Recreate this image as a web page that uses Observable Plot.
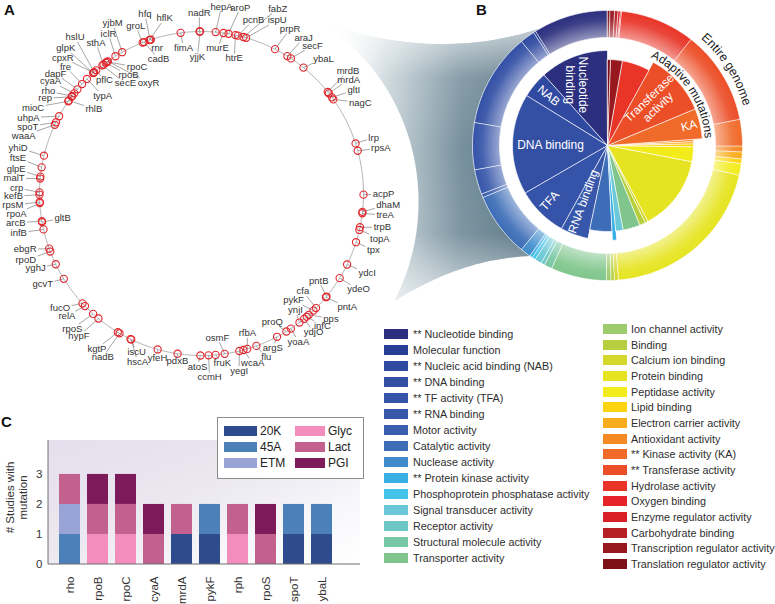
<!DOCTYPE html>
<html>
<head>
<meta charset="utf-8">
<script src="https://cdn.jsdelivr.net/npm/d3@7"></script>
<script src="https://cdn.jsdelivr.net/npm/@observablehq/plot@0.6"></script>
<style>
html,body{margin:0;padding:0;background:#fff;}
#fig{position:relative;width:775px;height:604px;overflow:hidden;font-family:"Liberation Sans",Arial,Helvetica,sans-serif;color:#2a2a2a;}
#fig > svg{position:absolute;background:transparent;}
.ab{position:absolute;white-space:nowrap;}
</style>
</head>
<body>
<div id="fig"></div>
<script>
const FONT = "'Liberation Sans', Arial, Helvetica, sans-serif";

// ---------------- Panel A : genes on the genome (position in degrees, clockwise from origin) ----------------
const genes = [
["nadR",-0.7],["yjjK",-0.5],["fimA",-7.4],["hepA",5.0],["murE",7.8],["aroP",9.6],["htrE",12.1],["pcnB",13.0],
["fabZ",15.0],["ispU",16.0],["hfq",-18.5],["hflK",-18.8],["groL",-21.3],["rnr",-18.2],["cadB",-20.8],["yjbM",-29.3],
["iclR",-32.1],["sthA",-37.2],["hslU",-41.5],["glpK",-42.0],["cpxR",-41.8],["pflC",-40.5],["secE",-37.7],["oxyR",-35.3],
["rpoB",-36.2],["rpoC",-35.7],["typA",-45.0],["fre",-47.5],["dapF",-50.0],["cyaA",-51.8],["rho",-53.0],["rep",-53.3],
["mioC",-55.3],["rhlB",-55.0],["uhpA",-61.5],["spoT",-63.9],["waaA",-64.9],["yhiD",-76.5],["ftsE",-80.7],["glpE",-84.0],
["malT",-84.7],["crp",-89.6],["kefB",-90.4],["rpsM",-93.0],["rpoA",-93.4],["arcB",-99.8],["gltB",-100.2],["infB",-102.8],
["ebgR",-109.9],["rpoD",-111.0],["yghJ",-115.9],["gcvT",-121.8],["fucO",-132.7],["relA",-134.0],["rpoS",-138.0],["hypF",-140.5],
["kgtP",-148.9],["nadB",-149.6],["iscU",-154.0],["hscA",-154.3],["yfeH",-164.3],["pdxB",-171.5],["atoS",-179.6],["ccmH",177.5],
["fruK",175.0],["osmF",171.8],["yegI",166.5],["wcaA",165.0],["rfbA",163.6],["flu",160.2],["argS",152.2],["proQ",148.4],
["yoaA",146.5],["ynjI",142.8],["ydjO",140.7],["infC",139.5],["pps",138.5],["pykF",136.3],["cfa",135.0],["pntA",129.8],
["pntB",129.5],["ydeO",121.5],["ydcI",116.0],["tpx",107.5],["topA",103.0],["trpB",102.0],["treA",97.0],["dhaM",96.5],
["acpP",90.4],["rpsA",74.7],["lrp",72.0],["nagC",54.5],["gltI",53.6],["mrdA",51.8],["mrdB",51.2],["ybaL",39.0],
["secF",33.5],["araJ",32.0],["prpR",27.0]
];
// label placement [angle, radius px] (same order as genes)
const labelPlacement = [
[-0.7,181],[-1.7,137],[-7,147],[6.1,188],[6.3,146],[11.8,190],[13.6,139],[16.7,181],
[22.4,200],[23.6,189],[-17.5,188],[-11.9,179],[-21.4,180],[-16.9,152.5],[-17.7,141],[-27.6,192],
[-30.2,185],[-35,184],[-39,201],[-43,199],[-45.6,194],[-40.6,149],[-34.6,134],[-25.5,123],
[-31.7,139],[-27,142],[-45.3,139],[-47,186],[-50.6,189],[-53.4,188],[-56.3,184],[-58.7,183],
[-63,189],[-51.8,137],[-66.3,189],[-69,186],[-72,187],[-76,189],[-79,187],[-82.4,187],
[-85.4,188],[-88.2,185],[-90.9,188],[-93.6,189],[-96.2,186],[-99,188],[-100,141],[-102.2,187],
[-107.6,185],[-110.8,188],[-114.3,182],[-119.8,183],[-129,182],[-132.3,182],[-136.3,187],[-139.3,188],
[-146,187],[-148.9,191],[-157.7,171],[-159.2,180],[-165,170],[-171.8,169],[-178.7,173],[177.5,184],
[173,171],[173.7,145],[168,181],[163.2,177],[161.8,147],[158.4,176],[155.2,170],[151.2,147],
[146.8,177],[141.2,150],[141,178],[137.5,179],[134,180],[139.3,141],[134,141],[128,185],
[126.6,146],[121.4,184],[115.7,184],[108.3,181],[104.2,184],[100.6,184],[96.8,185],[93.4,187],
[90.3,182],[75.8,185],[72,181],[60.2,183],[55.9,184],[52.3,186],[50.1,191],[42.1,182],
[36.9,185],[33.3,186],[28.3,187]
];

// ---------------- Panel B : molecular function categories ----------------
const functionNames = ["** Nucleotide binding","Molecular function","** Nucleic acid binding (NAB)","** DNA binding","** TF activity (TFA)","** RNA binding","Motor activity","Catalytic activity","Nuclease activity","** Protein kinase activity","Phosphoprotein phosphatase activity","Signal transducer activity","Receptor activity","Structural molecule activity","Transporter activity","Ion channel activity","Binding","Calcium ion binding","Protein binding","Peptidase activity","Lipid binding","Electron carrier activity","Antioxidant activity","** Kinase activity (KA)","** Transferase activity","Hydrolase activity","Oxygen binding","Enzyme regulator activity","Carbohydrate binding","Transcription regulator activity","Translation regulator activity"];
const functionColors = ["#2b2f7e","#283d96","#2f4aa0","#3350a5","#3553a8","#3757aa","#3a5dae","#3d6db7","#3f8bcb","#38b0e6","#45c4ea","#6ac8d8","#6cc6c4","#78c7a5","#80c68c","#9ecb6e","#b5cf3e","#d4d82b","#e6e420","#f2ec1b","#fcd30f","#f9ac1c","#f58a25","#f06a2a","#ec4e28","#e83528","#e52329","#d81f27","#b71f27","#98181f","#7c1117"];
// share of adaptive mutations (inner pie)
const adaptiveShare = [42,0,16.3,61.7,31,17,0,15,0,2.5,0,5,0,0,11.6,0,4,2,51,10,2,1.5,1.5,18.5,38.5,18.9,0,0,0,8,2];
// share of entire genome (outer ring)
const genomeShare = [32.3,1,6.4,40.7,20.3,10.7,1.6,27.8,4.5,1.2,1.5,3,1.6,3.4,24,2,1.5,1.7,72.8,5,2,3,2.5,11.5,40.7,32.3,0.5,1,1.5,2,1];
const pieLabels = [
  ["Nucleotide\nbinding", 333, 68, 90],
  ["NAB", 310.3, 77, 40],
  ["DNA binding", 271, 57, 0],
  ["TFA", 226.4, 80, -48],
  ["RNA binding", 203.5, 61, -70],
  ["Transferase\nactivity", 46.9, 63, -44],
  ["KA", 76.3, 84, -14]
];

// ---------------- Panel C : recurrently mutated genes ----------------
const mutGenes = ["rho","rpoB","rpoC","cyaA","mrdA","pykF","rph","rpoS","spoT","ybaL"];
const studies = ["20K","45A","ETM","Glyc","Lact","PGI"];
const studyColors = ["#2e4b8e","#4c80b8","#9aa3d6","#f28dbd","#c2608e","#7d1b5a"];
const mutatedIn = [["45A","ETM","Lact"],["Glyc","Lact","PGI"],["Glyc","Lact","PGI"],["Lact","PGI"],["20K","Lact"],["20K","45A"],["Glyc","Lact"],["Lact","PGI"],["20K","45A"],["20K","45A"]];
const studyTicks = [0, 1, 2, 3];

// ---------------- geometry helpers ----------------
const A = {cx: 201, cy: 193, r: 162};
const B = {cx: 607, cy: 145, pieStar: 95, pie: 86, ring0: 108, ring1: 135};
const rad = Math.PI / 180;
const polar = (c, deg, r) => [c.cx + r * Math.sin(deg * rad), c.cy - r * Math.cos(deg * rad)];
const ns = "http://www.w3.org/2000/svg";
const GENE_FONT = 9.5;

const circlePts = d3.range(0, 360, 2).map(a => polar(A, a, A.r));

const ctx = document.createElement("canvas").getContext("2d");
ctx.font = GENE_FONT + "px " + FONT;
const geneRecs = genes.map(([name, pos], i) => {
  const [la, lr] = labelPlacement[i];
  const P = polar(A, pos, A.r), C = polar(A, la, lr);
  const hw = ctx.measureText(name).width / 2 + 1.5, hh = 4.6;
  const dx = P[0] - C[0], dy = P[1] - C[1];
  const t = Math.min(dx ? hw / Math.abs(dx) : Infinity, dy ? hh / Math.abs(dy) : Infinity);
  const E = t < 1 ? [C[0] + dx * t, C[1] + dy * t] : P;
  return {name, px: P[0], py: P[1], lx: C[0], ly: C[1], ex: E[0], ey: E[1]};
});

function qbez(p0, c, p1, n) {
  const out = [];
  for (let k = 1; k < n; k++) {
    const t = k / n, u = 1 - t;
    out.push([u*u*p0[0] + 2*u*t*c[0] + t*t*p1[0], u*u*p0[1] + 2*u*t*c[1] + t*t*p1[1]]);
  }
  return out;
}
const funnelPts = [];
for (let a = 35; a <= 119; a++) funnelPts.push(polar(A, a, 209 + (a - 35) / 84 * 12));
funnelPts.push(...qbez(polar(A, 119, 221), [462, 258], polar(B, 215, B.ring1), 30));
for (let a = 215; a <= 330; a++) funnelPts.push(polar(B, a, B.ring1));
funnelPts.push(...qbez(polar(B, 330, B.ring1), [435, 62], polar(A, 35, 209), 30));

function layoutWedges(values) {
  const total = d3.sum(values);
  let cum = 0; const out = [];
  values.forEach((v, i) => {
    const a1 = 360 - cum / total * 360; cum += v; const a0 = 360 - cum / total * 360;
    if (v > 0) out.push({i, a0, a1});
  });
  return out;
}
function wedgePts(id, a0, a1, r0, r1, color) {
  const pts = [];
  const n = Math.max(2, Math.ceil(a1 - a0));
  for (let k = 0; k <= n; k++) pts.push(polar(B, a0 + (a1 - a0) * k / n, r1));
  if (r0 === 0) pts.push([B.cx, B.cy]);
  else for (let k = n; k >= 0; k--) pts.push(polar(B, a0 + (a1 - a0) * k / n, r0));
  return pts.map(p => ({id, color, x: p[0], y: p[1]}));
}
const ringPts = layoutWedges(genomeShare).flatMap(w => wedgePts("o" + w.i, w.a0, w.a1, B.ring0, B.ring1, functionColors[w.i]));
const piePts = layoutWedges(adaptiveShare).flatMap(w => wedgePts("p" + w.i, w.a0, w.a1, 0, functionNames[w.i].startsWith("**") ? B.pieStar : B.pie, functionColors[w.i]));
const pieLabelRecs = pieLabels.map(([text, a, r, rot]) => { const p = polar(B, a, r); return {text, x: p[0], y: p[1], rot}; });

function defsMark() {
  return () => {
    const g = document.createElementNS(ns, "g");
    g.innerHTML = `<defs>
      <linearGradient id="funnelGrad" gradientUnits="userSpaceOnUse" x1="322" y1="0" x2="545" y2="0">
        <stop offset="0" stop-color="#ffffff" stop-opacity="0"/>
        <stop offset="0.28" stop-color="#cdd8dd"/>
        <stop offset="0.62" stop-color="#78919e"/>
        <stop offset="1" stop-color="#4f6d7b"/>
      </linearGradient>
      <linearGradient id="funnelFeather" gradientUnits="userSpaceOnUse" x1="0" y1="20" x2="0" y2="305">
        <stop offset="0" stop-color="#fff" stop-opacity="0.75"/>
        <stop offset="0.2" stop-color="#fff" stop-opacity="0.12"/>
        <stop offset="0.45" stop-color="#fff" stop-opacity="0"/>
        <stop offset="0.75" stop-color="#fff" stop-opacity="0.05"/>
        <stop offset="1" stop-color="#fff" stop-opacity="0.7"/>
      </linearGradient>
      <radialGradient id="ringGrad" cx="0.5" cy="0.5" r="0.5">
        <stop offset="0" stop-color="#fff" stop-opacity="0"/>
        <stop offset="0.795" stop-color="#fff" stop-opacity="0"/>
        <stop offset="0.8" stop-color="#fff" stop-opacity="0.5"/>
        <stop offset="0.93" stop-color="#fff" stop-opacity="0.08"/>
        <stop offset="1" stop-color="#fff" stop-opacity="0"/>
      </radialGradient>
    </defs>`;
    return g;
  };
}
function arcLabel(label, midDeg, r, size, id) {
  return (index, scales) => {
    const sx = scales && scales.x ? scales.x : (v => v), sy = scales && scales.y ? scales.y : (v => v);
    const g = document.createElementNS(ns, "g");
    const p0 = polar(B, midDeg - 80, r), p1 = polar(B, midDeg + 80, r);
    const path = document.createElementNS(ns, "path");
    path.setAttribute("id", id);
    path.setAttribute("d", `M${sx(p0[0])},${sy(p0[1])}A${r},${r} 0 0 1 ${sx(p1[0])},${sy(p1[1])}`);
    path.setAttribute("fill", "none");
    g.appendChild(path);
    const text = document.createElementNS(ns, "text");
    text.setAttribute("font-size", size);
    text.setAttribute("font-family", FONT);
    text.setAttribute("fill", "#222");
    const tp = document.createElementNS(ns, "textPath");
    tp.setAttribute("href", "#" + id);
    tp.setAttributeNS("http://www.w3.org/1999/xlink", "xlink:href", "#" + id);
    tp.setAttribute("startOffset", "50%");
    tp.setAttribute("text-anchor", "middle");
    tp.textContent = label;
    text.appendChild(tp);
    g.appendChild(text);
    return g;
  };
}

const fig = document.getElementById("fig");

const main = Plot.plot({
  width: 775, height: 604, margin: 0,
  x: {domain: [0, 775], range: [0, 775], axis: null},
  y: {domain: [0, 604], range: [0, 604], axis: null},
  color: {type: "identity"},
  style: {fontFamily: FONT, background: "transparent"},
  marks: [
    defsMark(),
    Plot.line(funnelPts, {x: d => d[0], y: d => d[1], fill: "url(#funnelGrad)", stroke: "none", curve: "linear-closed"}),
    Plot.line(funnelPts, {x: d => d[0], y: d => d[1], fill: "url(#funnelFeather)", stroke: "none", curve: "linear-closed"}),
    Plot.line(circlePts, {x: d => d[0], y: d => d[1], stroke: "#a3a3a3", strokeWidth: 0.8, curve: "linear-closed"}),
    Plot.link(geneRecs, {x1: "px", y1: "py", x2: "ex", y2: "ey", stroke: "#6a6a6a", strokeWidth: 0.6}),
    Plot.dot(geneRecs, {x: "px", y: "py", r: 3.6, stroke: "#e1262d", strokeWidth: 1.1, fill: "none"}),
    Plot.text(geneRecs, {x: "lx", y: "ly", text: "name", fontSize: GENE_FONT, fill: "#333", textAnchor: "middle", lineAnchor: "middle"}),
    Plot.line(ringPts, {x: "x", y: "y", z: "id", fill: "color", stroke: "white", strokeWidth: 0.6, curve: "linear-closed"}),
    Plot.dot([B], {x: "cx", y: "cy", r: B.ring1, fill: "url(#ringGrad)", stroke: "none"}),
    Plot.line(piePts, {x: "x", y: "y", z: "id", fill: "color", stroke: "white", strokeWidth: 0.7, curve: "linear-closed"}),
    Plot.text(pieLabelRecs, {x: "x", y: "y", text: "text", rotate: "rot", fill: "white", fontSize: 12, lineHeight: 1.05, textAnchor: "middle", lineAnchor: "middle"}),
    arcLabel("Entire genome", 57.7, 142, 12.5, "arcGenome"),
    arcLabel("Adaptive mutations", 56.3, 98, 12, "arcAdaptive"),
    Plot.text([["A", 9, 10], ["B", 481, 10], ["C", 6, 422]], {x: d => d[1], y: d => d[2], text: d => d[0], fontSize: 15, fontWeight: "bold", fill: "#111", textAnchor: "middle", lineAnchor: "middle"})
  ]
});
main.style.left = "0px"; main.style.top = "0px";
fig.appendChild(main);

// ---------------- Legend for B ----------------
functionNames.forEach((name, i) => {
  const col = i < 15 ? 0 : 1, row = col ? i - 15 : i;
  const cy = col ? 329 + row * 15.67 : 334 + row * 16.02;
  const sw = document.createElement("div");
  sw.className = "ab";
  Object.assign(sw.style, {left: (col ? 603 : 384) + "px", top: (cy - 5) + "px", width: "24px", height: "10px", background: functionColors[i]});
  fig.appendChild(sw);
  const tx = document.createElement("div");
  tx.className = "ab";
  Object.assign(tx.style, {left: (col ? 631 : 413) + "px", top: (cy - 7) + "px", fontSize: "10.8px", lineHeight: "14px", color: "#2e2e2e"});
  tx.textContent = name;
  fig.appendChild(tx);
});

// ---------------- Panel C ----------------
const barRecs = mutGenes.flatMap((g, i) => studies.filter(s => mutatedIn[i].includes(s)).map(s => ({gene: g, study: s, n: 1})));
function cBackground() {
  return (index, scales, values, dims) => {
    const g = document.createElementNS(ns, "g");
    const x0 = dims.marginLeft, y0 = dims.marginTop, w = dims.width - dims.marginLeft - dims.marginRight, h = dims.height - dims.marginTop - dims.marginBottom;
    g.innerHTML = `<defs><linearGradient id="cGrad" x1="0" y1="0" x2="1" y2="1">
      <stop offset="0" stop-color="#e4dfec"/><stop offset="0.45" stop-color="#ebe8f1"/><stop offset="0.72" stop-color="#f7f6fa"/><stop offset="1" stop-color="#ffffff"/></linearGradient></defs>
      <rect x="${x0}" y="${y0}" width="${w}" height="${h}" fill="url(#cGrad)"/>`;
    return g;
  };
}
function cAxisLines() {
  return (index, scales, values, dims) => {
    const g = document.createElementNS(ns, "g");
    const x0 = dims.marginLeft, y0 = dims.marginTop, x1 = dims.width - dims.marginRight, y1 = dims.height - dims.marginBottom;
    g.innerHTML = `<path d="M${x0},${y0}V${y1}H${x1}" fill="none" stroke="#6e6e6e" stroke-width="1"/>`;
    return g;
  };
}
const cPlot = Plot.plot({
  width: 380, height: 194,
  marginTop: 30, marginBottom: 40, marginLeft: 48, marginRight: 20,
  x: {type: "band", domain: mutGenes, range: [51.5, 340.5], paddingInner: 0.24, paddingOuter: 0.12, tickSize: 0, tickPadding: 12, tickRotate: -90, label: null},
  y: {domain: [0, 4.13], ticks: studyTicks, tickFormat: d3.format("d"), tickSize: 0, tickPadding: 6, label: null},
  color: {domain: studies, range: studyColors},
  style: {fontFamily: FONT, fontSize: "11.5px", background: "transparent", color: "#333"},
  marks: [
    cBackground(),
    Plot.barY(barRecs, {x: "gene", y: "n", fill: "study"}),
    cAxisLines(),
    Plot.text(["# Studies with\nmutation"], {text: d => d, frameAnchor: "left", textAnchor: "middle", dx: -32.5, dy: -5, rotate: -90, fontSize: 11.5, lineHeight: 1.15, fill: "#333"})
  ]
});
cPlot.style.left = "0px"; cPlot.style.top = "410px";
fig.appendChild(cPlot);

// legend for C
const box = document.createElement("div");
box.className = "ab";
Object.assign(box.style, {left: "217px", top: "417px", width: "145px", height: "60px", border: "1px solid #8c8c8c", background: "#fff"});
fig.appendChild(box);
studies.forEach((s, i) => {
  const col = i < 3 ? 0 : 1, row = i % 3;
  const cy = 431 + row * 16;
  const sw = document.createElement("div");
  sw.className = "ab";
  Object.assign(sw.style, {left: (col ? 295 : 224) + "px", top: (cy - 5) + "px", width: (col ? 30 : 33) + "px", height: "10px", background: studyColors[i]});
  fig.appendChild(sw);
  const tx = document.createElement("div");
  tx.className = "ab";
  Object.assign(tx.style, {left: (col ? 328 : 260) + "px", top: (cy - 7) + "px", fontSize: "12px", lineHeight: "14px", color: "#222"});
  tx.textContent = s;
  fig.appendChild(tx);
});
</script>
</body>
</html>
